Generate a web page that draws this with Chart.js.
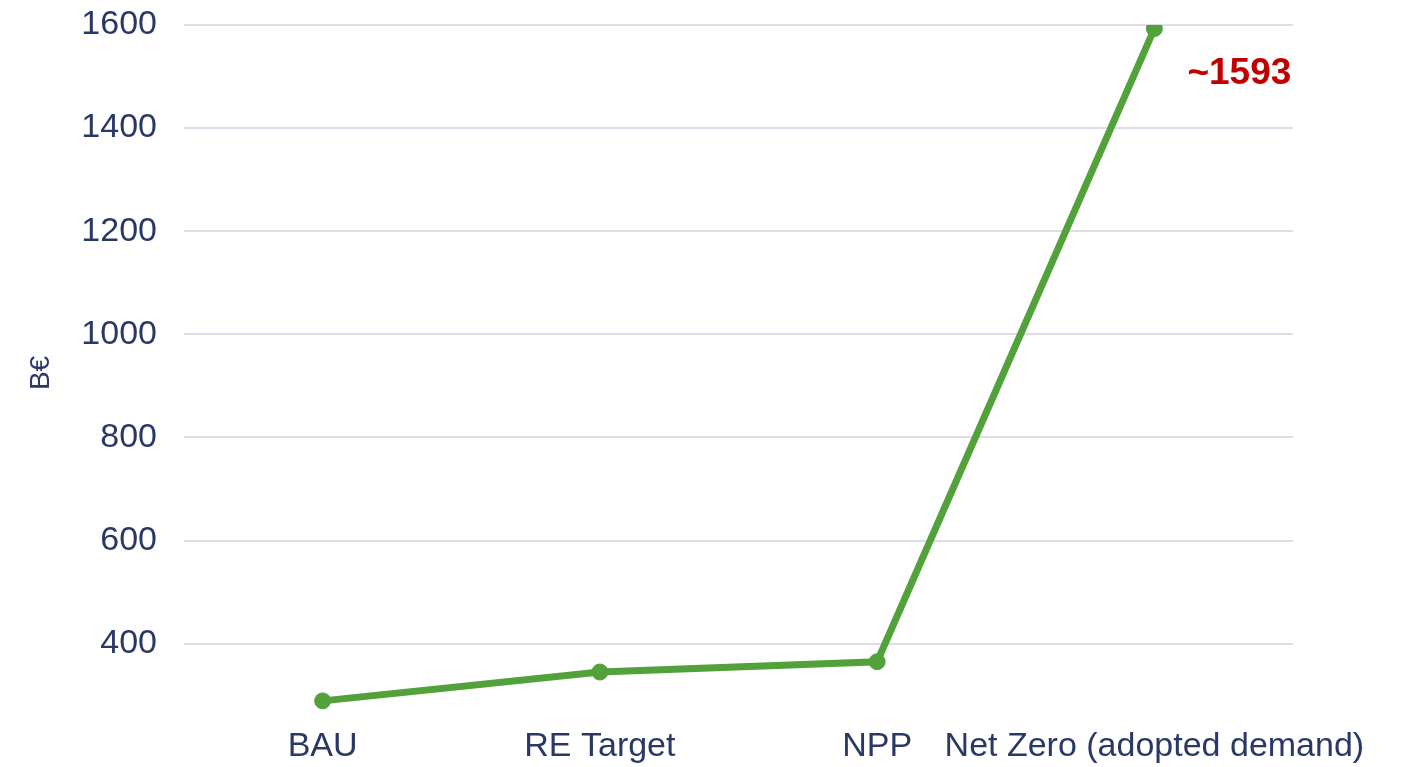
<!DOCTYPE html>
<html>
<head>
<meta charset="utf-8">
<script src="https://cdn.jsdelivr.net/npm/chart.js@4"></script>
<style>
  html, body { margin: 0; padding: 0; background: #ffffff; }
  #wrap { width: 1411px; height: 767px; }
</style>
</head>
<body>
<div id="wrap"><canvas id="myChart" width="1411" height="767"></canvas></div>
<script>
const scenarios = ['BAU', 'RE Target', 'NPP', 'Net Zero (adopted demand)'];
const costs = [289, 345, 365, 1593];
const yTicks = [400, 600, 800, 1000, 1200, 1400, 1600];
const calloutIndex = 3;

const textColor = '#2a3865';
const green = '#52a13a';
const fontFamily = '"Liberation Sans", Arial, sans-serif';

// red "~value" callout next to the last point
const callout = {
  id: 'callout',
  afterDatasetsDraw(chart) {
    const pt = chart.getDatasetMeta(0).data[calloutIndex];
    const c = chart.ctx;
    c.save();
    c.font = 'bold 37px ' + fontFamily;
    c.fillStyle = '#c00000';
    c.textAlign = 'left';
    c.textBaseline = 'middle';
    c.fillText('~' + costs[calloutIndex], pt.x + 33, pt.y + 45);
    c.restore();
  }
};

const ctx = document.getElementById('myChart').getContext('2d');

new Chart(ctx, {
  type: 'line',
  data: {
    labels: scenarios,
    datasets: [{
      data: costs,
      borderColor: green,
      backgroundColor: green,
      pointBackgroundColor: green,
      pointBorderColor: green,
      borderWidth: 7,
      pointRadius: 8,
      pointBorderWidth: 1,
      tension: 0,
      fill: false
    }]
  },
  options: {
    responsive: false,
    animation: false,
    layout: { padding: { top: 25, right: 118, bottom: 0, left: 0 } },
    plugins: {
      legend: { display: false },
      tooltip: { enabled: false }
    },
    scales: {
      x: {
        offset: true,
        grid: { display: false, drawTicks: false },
        border: { display: false },
        ticks: {
          color: textColor,
          padding: 5,
          maxRotation: 0,
          autoSkip: false,
          font: { family: fontFamily, size: 34 }
        },
        afterFit(scale) { scale.height = 46; }
      },
      y: {
        min: 250,
        max: 1600,
        afterBuildTicks(scale) {
          scale.ticks = yTicks.map(v => ({ value: v }));
        },
        afterFit(scale) {
          scale.width = 184;
          scale.paddingTop = 0;
          scale.paddingBottom = 0;
        },
        grid: { color: '#dcdde8', lineWidth: 2, drawTicks: false },
        border: { display: false },
        ticks: {
          color: textColor,
          padding: 27,
          callback: v => String(v),
          font: { family: fontFamily, size: 34 }
        },
        title: {
          display: true,
          text: 'B€',
          color: textColor,
          padding: { top: 24, bottom: 0 },
          font: { family: fontFamily, size: 28 }
        }
      }
    }
  },
  plugins: [callout]
});
</script>
</body>
</html>
